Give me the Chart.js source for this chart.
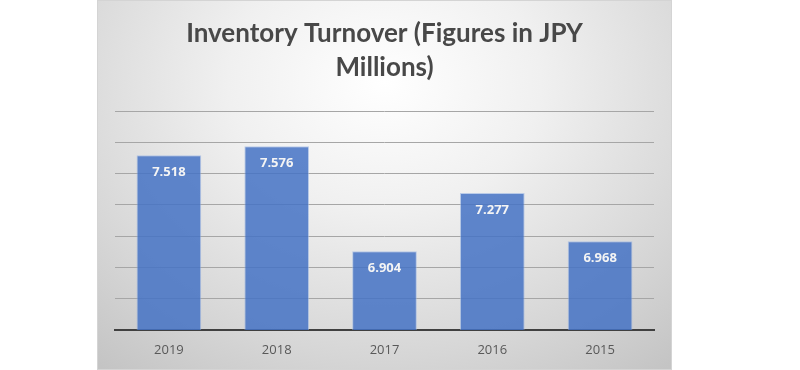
<!DOCTYPE html>
<html>
<head>
<meta charset="utf-8">
<script src="https://cdn.jsdelivr.net/npm/chart.js@4/dist/chart.umd.min.js"></script>
<style>
  html, body { margin: 0; padding: 0; background: #ffffff; }
  #box {
    position: absolute; left: 97px; top: 0; width: 575px; height: 370px;
    box-sizing: border-box; border: 1px solid #d4d4d4;
    background: radial-gradient(ellipse 78% 100% at 50% 22%, #ffffff 0%, #f0f0f0 35%, #d6d6d6 75%, #c4c4c4 100%);
  }
  #chart { display: block; }
</style>
</head>
<body>
<div id="box"><canvas id="chart" width="573" height="368"></canvas></div>
<script>
// values
const years  = ['2019', '2018', '2017', '2016', '2015'];
const turnover = [7.518, 7.576, 6.904, 7.277, 6.968];
const titleLines = ['Inventory Turnover (Figures in JPY', 'Millions)'];

// white value labels inside the top of each bar
const barLabels = {
  id: 'barLabels',
  afterDatasetsDraw(chart) {
    const ctx = chart.ctx;
    const meta = chart.getDatasetMeta(0);
    ctx.save();
    ctx.fillStyle = '#f4f4f4';
    ctx.font = 'bold 13px "Open Sans"';
    ctx.textAlign = 'center';
    ctx.textBaseline = 'middle';
    meta.data.forEach((bar, i) => {
      ctx.fillText(turnover[i].toFixed(3), bar.x, bar.y + 17);
    });
    ctx.restore();
  }
};

new Chart(document.getElementById('chart'), {
  type: 'bar',
  data: {
    labels: years,
    datasets: [{
      data: turnover,
      backgroundColor: 'rgba(68,114,196,0.85)',
      borderColor: 'rgba(150,178,226,0.6)',
      borderWidth: 1,
      categoryPercentage: 1,
      barPercentage: 0.6
    }]
  },
  options: {
    responsive: false,
    animation: false,
    layout: { padding: { left: 17, right: 17, top: 0, bottom: 11 } },
    plugins: {
      legend: { display: false },
      tooltip: { enabled: false },
      title: {
        display: true,
        text: titleLines,
        color: '#484848',
        font: { family: 'Lato', size: 26, weight: 'bold', lineHeight: 1.31 },
        padding: { top: 16, bottom: 26 }
      }
    },
    scales: {
      x: {
        grid: { display: false, drawTicks: false },
        border: { display: true, color: '#404040', width: 2 },
        ticks: { color: '#595959', font: { family: 'Open Sans', size: 13 }, padding: 12 },
        afterFit(scale) { scale.height = 28; }
      },
      y: {
        min: 6.4,
        max: 7.8,
        ticks: { display: false, stepSize: 0.2 },
        grid: { color: '#a6a6a6', lineWidth: 1, drawTicks: false },
        border: { display: false }
      }
    }
  },
  plugins: [barLabels]
});
</script>
</body>
</html>
